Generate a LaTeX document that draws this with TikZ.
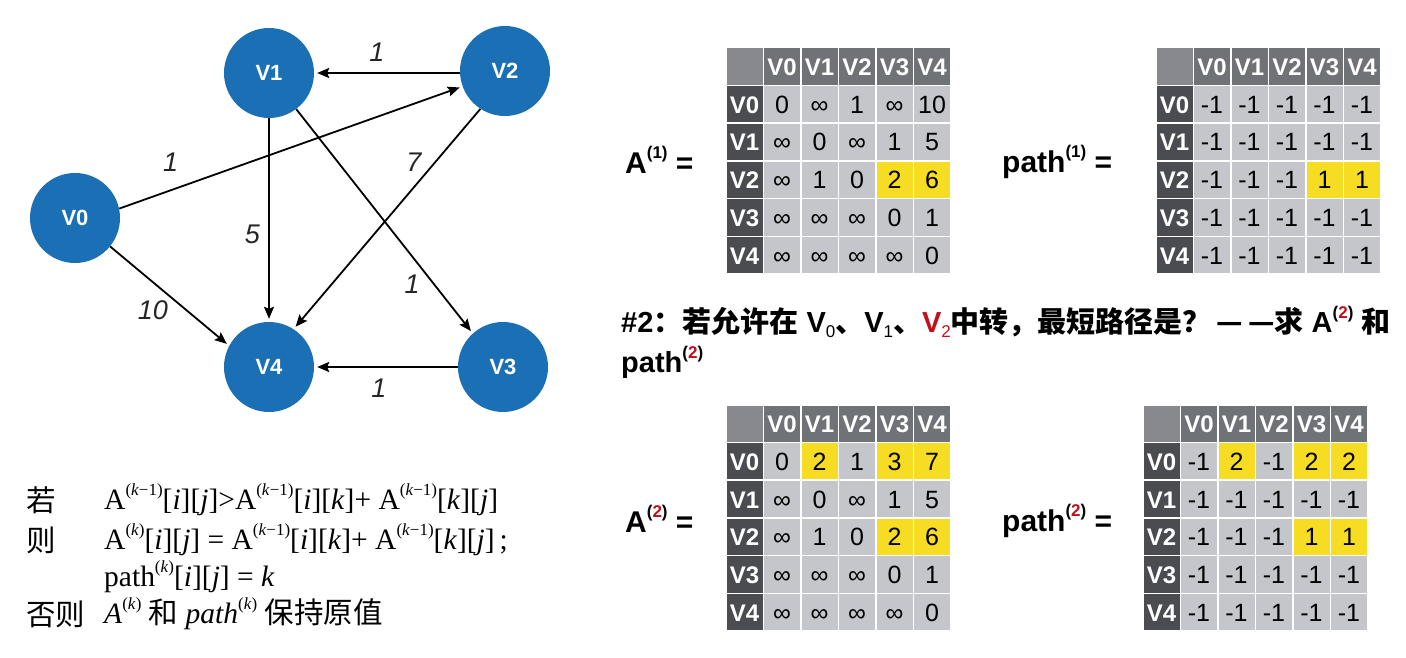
\documentclass[tikz,border=0pt]{standalone}
\usepackage{fontspec}
\usepackage{xstring}
\setmainfont{Liberation Serif}
\setsansfont{Liberation Sans}
\newfontfamily\cjk{Noto Sans CJK SC}
\usetikzlibrary{arrows.meta,positioning}
\definecolor{nodeb}{HTML}{1B6FB5}
\definecolor{cornc}{HTML}{87898E}
\definecolor{headc}{HTML}{6F7277}
\definecolor{rowc}{HTML}{4A4C51}
\definecolor{cellc}{HTML}{C5C6CB}
\definecolor{hlc}{HTML}{F6DC22}
\definecolor{redc}{HTML}{C0101A}
\newcommand\iy{∞}
\newcommand\sps[1]{\raisebox{0.48em}{\fontsize{17}{17}\selectfont #1}}
\newcommand\sbs[1]{\raisebox{-0.18em}{\fontsize{17}{17}\selectfont\mdseries #1}}
\tikzset{
  vx/.style={circle,fill=nodeb,text=white,minimum size=90pt,inner sep=0pt,font=\sffamily\bfseries\fontsize{22}{22}\selectfont},
  ar/.style={-{Stealth[length=12pt,width=10pt,inset=2pt]},line width=1.8pt,shorten >=3pt},
  wt/.style={font=\sffamily\itshape\fontsize{27}{27}\selectfont,text=black!85},
  tc/.style={draw=white,line width=1.5pt,minimum width=37.5pt,minimum height=37.7pt,inner sep=0pt,anchor=north west,text height=18pt,text depth=0pt},
  hd/.style={tc,fill=headc,text=white,font=\sffamily\bfseries\fontsize{24}{24}\selectfont},
  rh/.style={hd,fill=rowc},
  bd/.style={tc,font=\sffamily\fontsize{25}{25}\selectfont},
  lab/.style={anchor=west,inner sep=0pt,font=\sffamily\bfseries\fontsize{30}{30}\selectfont},
  hdg/.style={anchor=west,inner sep=0pt,font=\sffamily\bfseries\fontsize{29}{29}\selectfont},
  fm/.style={anchor=west,inner sep=0pt,font=\fontsize{29.5}{29.5}\selectfont}
}
% one table: name, top left corner, rows, yellow cells
\newcommand\ptab[4]{%
  \begin{scope}[shift={#2}]
    \node[tc,fill=cornc] (#1-0-0) at (0,0) {};
    \foreach \col in {1,...,5} {
      \pgfmathtruncatemacro\idx{\col-1}
      \node[hd] (#1-0-\col) at ({\col*37.5},0) {V\idx};
    }
    \foreach \row [count=\rw] in {#3} {
      \pgfmathtruncatemacro\idx{\rw-1}
      \node[rh] (#1-\rw-0) at (0,{\rw*37.7}) {V\idx};
      \foreach \v [count=\col] in \row {
        \IfSubStr{,#4,}{,\rw-\col,}{\def\fc{hlc}}{\def\fc{cellc}}
        \node[bd,fill=\fc] (#1-\rw-\col) at ({\col*37.5},{\rw*37.7}) {\v};
      }
    }
  \end{scope}}

\begin{document}
\begin{tikzpicture}[x=1pt,y=-1pt]
\useasboundingbox[fill=white] (0,0) rectangle (1406,658);

% graph
\node[vx] (v0) at (75,218) {V0};
\node[vx] (v1) at (269,73) {V1};
\node[vx] (v2) at (505,71) {V2};
\node[vx] (v3) at (503,367) {V3};
\node[vx] (v4) at (269,367) {V4};

\draw[ar] (v2.west|-v1) -- node[wt,above=7pt,pos=0.57] (w21) {1} (v1);
\draw[ar] (v0.12) -- node[wt,above=15pt,pos=0.15] (w02) {1} (v2.200);
\draw[ar] (v1) -- node[wt,left=5pt,pos=0.57] (w14) {5} (v4);
\draw[ar] (v2.237) -- node[wt,left=10pt,pos=0.24] (w24) {7} (v4.57);
\draw[ar] (v1.-53) -- node[wt,left=10pt,pos=0.78] (w13) {1} (v3.132);
\draw[ar] (v0.-39) -- node[wt,below=14pt,pos=0.36] (w04) {10} (v4.152);
\draw[ar] (v3) -- node[wt,below=8pt,pos=0.55] (w34) {1} (v4);

% rule
\node[fm] (r1) at (26,500) {\cjk 若};
\node[fm] (f1) at (104,500) {A\sps{(\textit{k}−1)}[\textit{i}][\textit{j}]>A\sps{(\textit{k}−1)}[\textit{i}][\textit{k}]+ A\sps{(\textit{k}−1)}[\textit{k}][\textit{j}]};
\node[fm] (r2) at (26,540) {\cjk 则};
\node[fm] (f2) at (104,540) {A\sps{(\textit{k})}[\textit{i}][\textit{j}] = A\sps{(\textit{k}−1)}[\textit{i}][\textit{k}]+ A\sps{(\textit{k}−1)}[\textit{k}][\textit{j}]\,;};
\node[fm] (f3) at (104,577) {path\sps{(\textit{k})}[\textit{i}][\textit{j}] = \textit{k}};
\node[fm] (r4) at (26,614) {\cjk 否则};
\node[fm] (f4) at (104,614) {\textit{A}\sps{(\textit{k})} {\cjk 和} \textit{path}\sps{(\textit{k})} {\cjk 保持原值}};

% matrices
\node[lab] (la1) at (625,160) {A\sps{(1)} =};
\node[lab] (lp1) at (1002,162) {path\sps{(1)} =};
\ptab{ta}{(725,47)}{{0,\iy,1,\iy,10},{\iy,0,\iy,1,5},{\iy,1,0,2,6},{\iy,\iy,\iy,0,1},{\iy,\iy,\iy,\iy,0}}{3-4,3-5}
\ptab{tp}{(1155,47)}{{-1,-1,-1,-1,-1},{-1,-1,-1,-1,-1},{-1,-1,-1,1,1},{-1,-1,-1,-1,-1},{-1,-1,-1,-1,-1}}{3-4,3-5}

\node[hdg] (q1) at (621,322) {\#2{\cjk\bfseries ：若允许在} V\sbs{0}{\cjk\bfseries 、}V\sbs{1}{\cjk\bfseries 、}\textcolor{redc}{V\sbs{2}}{\cjk\bfseries 中转，最短路径是？}\,{\cjk\bfseries —\,—求} A\sps{(\textcolor{redc}{2})} {\cjk\bfseries 和}};
\node[hdg] (q2) at (621,362) {path\sps{(\textcolor{redc}{2})}};

\node[lab] (la2) at (625,519) {A\sps{(\textcolor{redc}{2})} =};
\node[lab] (lp2) at (1002,521) {path\sps{(\textcolor{redc}{2})} =};
\ptab{tb}{(725,404)}{{0,2,1,3,7},{\iy,0,\iy,1,5},{\iy,1,0,2,6},{\iy,\iy,\iy,0,1},{\iy,\iy,\iy,\iy,0}}{1-2,1-4,1-5,3-4,3-5}
\ptab{tq}{(1142,404)}{{-1,2,-1,2,2},{-1,-1,-1,-1,-1},{-1,-1,-1,1,1},{-1,-1,-1,-1,-1},{-1,-1,-1,-1,-1}}{1-2,1-4,1-5,3-4,3-5}
\end{tikzpicture}
\end{document}
